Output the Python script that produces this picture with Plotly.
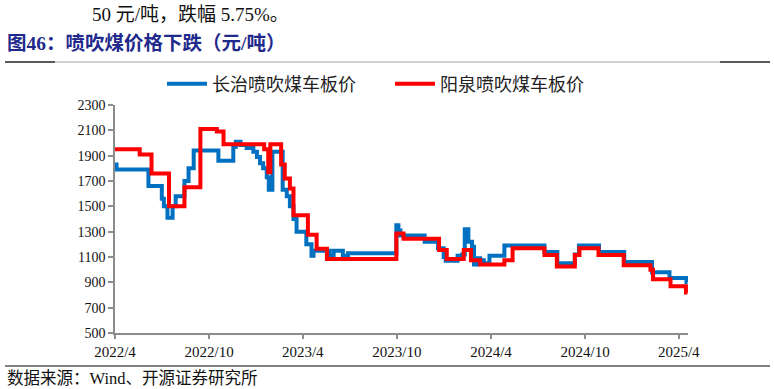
import plotly.graph_objects as go

# ---------------- data ----------------
cz_dates = ["2022-04-01", "2022-04-04", "2022-06-05", "2022-07-01", "2022-07-05", "2022-07-12",
            "2022-07-22", "2022-07-28", "2022-08-14", "2022-08-22", "2022-09-01", "2022-10-19",
            "2022-11-17", "2022-11-22", "2022-12-01", "2022-12-13", "2022-12-26", "2023-01-02",
            "2023-01-08", "2023-01-14", "2023-01-21", "2023-01-25", "2023-01-29", "2023-02-01",
            "2023-02-21", "2023-03-01", "2023-03-07", "2023-03-14", "2023-03-20", "2023-04-08",
            "2023-04-18", "2023-04-22", "2023-05-23", "2023-05-31", "2023-06-18", "2023-06-28",
            "2023-09-30", "2023-10-04", "2023-10-08", "2023-11-24", "2023-12-20", "2023-12-31",
            "2024-01-04", "2024-01-27", "2024-02-05", "2024-02-10", "2024-02-17", "2024-02-24",
            "2024-02-28", "2024-03-05", "2024-03-11", "2024-03-18", "2024-03-29", "2024-04-27",
            "2024-07-14", "2024-08-08", "2024-09-11", "2024-09-19", "2024-10-28", "2024-12-16",
            "2025-02-08", "2025-03-14", "2025-04-16", "2025-04-18"]
cz_vals = [1830, 1790, 1660, 1560, 1500, 1410,
           1500, 1580, 1700, 1800, 1940, 1860,
           1970, 2010, 1985, 1960, 1930, 1890,
           1840, 1800, 1730, 1630, 1630, 1930,
           1630, 1580, 1500, 1400, 1300, 1200,
           1110, 1150, 1110, 1150, 1110, 1130,
           1350, 1310, 1270, 1220, 1170, 1100,
           1070, 1110, 1120, 1320, 1220, 1180,
           1040, 1090, 1075, 1050, 1110, 1190,
           1140, 1050, 1120, 1190, 1140, 1060,
           980, 935, 900, 900]

yq_dates = ["2022-04-01", "2022-05-19", "2022-06-11", "2022-07-15", "2022-08-14", "2022-09-14",
            "2022-10-16", "2022-10-29", "2023-01-16", "2023-01-24", "2023-01-28", "2023-02-18",
            "2023-02-25", "2023-03-07", "2023-03-14", "2023-04-11", "2023-04-28", "2023-05-18",
            "2023-09-30", "2023-10-14", "2023-12-22", "2024-01-06", "2024-02-08", "2024-02-22",
            "2024-03-11", "2024-04-27", "2024-05-13", "2024-07-14", "2024-08-07", "2024-09-11",
            "2024-09-20", "2024-10-27", "2024-12-15", "2025-02-05", "2025-02-10", "2025-03-16",
            "2025-04-15", "2025-04-18"]
yq_vals = [1950, 1910, 1760, 1500, 1650, 2110,
           2090, 1990, 1950, 1770, 1990, 1830,
           1720, 1640, 1430, 1275, 1165, 1085,
           1285, 1245, 1155, 1085, 1155, 1075,
           1040, 1075, 1170, 1115, 1025, 1115,
           1170, 1115, 1035, 1000, 925, 870,
           820, 820]

x_tickvals = ["2022-04-01", "2022-10-01", "2023-04-01", "2023-10-01", "2024-04-01", "2024-10-01", "2025-04-01"]
x_ticktext = ["2022/4", "2022/10", "2023/4", "2023/10", "2024/4", "2024/10", "2025/4"]

# ---------------- layout helpers ----------------
W, H = 774, 389
ML, MR, MT, MB = 115, 86, 105, 56
PW, PH = W - ML - MR, H - MT - MB

def px(x):
    return (x - ML) / PW

def py(y):
    return (H - MB - y) / PH

serif = "Liberation Serif, Noto Sans CJK SC, serif"
cjk = "Noto Sans CJK SC, sans-serif"

fig = go.Figure()
fig.add_trace(go.Scatter(x=cz_dates, y=cz_vals, mode="lines", name="长治喷吹煤车板价",
                         line=dict(color="#0070C0", width=4, shape="hv")))
fig.add_trace(go.Scatter(x=yq_dates, y=yq_vals, mode="lines", name="阳泉喷吹煤车板价",
                         line=dict(color="#FF0000", width=4, shape="hv")))

axis_col = "#8c8c8c"
fig.update_layout(
    width=W, height=H,
    margin=dict(l=ML, r=MR, t=MT, b=MB),
    paper_bgcolor="white", plot_bgcolor="white",
    showlegend=True,
    legend=dict(orientation="h", x=px(162), xanchor="left", y=py(84), yanchor="middle",
                font=dict(family=cjk, size=18, color="#222"),
                itemwidth=40,
                entrywidth=173, entrywidthmode="pixels",
                bgcolor="rgba(0,0,0,0)"),
    xaxis=dict(type="date", range=["2022-04-01", "2025-04-19"],
               tickmode="array", tickvals=x_tickvals, ticktext=x_ticktext,
               showgrid=False, zeroline=False, showline=True, linecolor=axis_col, linewidth=1.5,
               ticks="outside", ticklen=4, tickcolor=axis_col, tickwidth=1.5,
               tickfont=dict(family=serif, size=15, color="#111")),
    yaxis=dict(range=[500, 2300], tickmode="linear", tick0=500, dtick=200,
               showgrid=False, zeroline=False, showline=True, linecolor=axis_col, linewidth=1.5,
               ticks="outside", ticklen=5, tickcolor=axis_col, tickwidth=1.5,
               tickfont=dict(family=serif, size=14, color="#111")),
)

annotations = [
    dict(text="50 元/吨，跌幅 5.75%。", x=px(90), y=py(14), xanchor="left", yanchor="middle",
         font=dict(family=serif, size=19, color="#111")),
    dict(text="<b>图46：喷吹煤价格下跌（元/吨）</b>", x=px(5), y=py(44), xanchor="left", yanchor="middle",
         font=dict(family="Liberation Serif, Noto Sans CJK SC", size=19.5, color="#1f2a8c")),
    dict(text="数据来源：Wind、开源证券研究所", x=px(5), y=py(378), xanchor="left", yanchor="middle",
         font=dict(family=serif, size=16.5, color="#111")),
]
for a in annotations:
    a.update(xref="paper", yref="paper", showarrow=False)
fig.update_layout(annotations=annotations)

shapes = [
    dict(type="line", x0=px(5), x1=px(770), y0=py(62), y1=py(62), line=dict(color="#a6a6a6", width=1)),
    dict(type="line", x0=px(5), x1=px(55), y0=py(62), y1=py(62), line=dict(color="#595959", width=2)),
    dict(type="line", x0=px(720), x1=px(770), y0=py(62), y1=py(62), line=dict(color="#595959", width=2)),
    dict(type="line", x0=px(5), x1=px(770), y0=py(366), y1=py(366), line=dict(color="#595959", width=1.5)),
]
for s in shapes:
    s.update(xref="paper", yref="paper")
fig.update_layout(shapes=shapes)

fig.write_html("out.html")
